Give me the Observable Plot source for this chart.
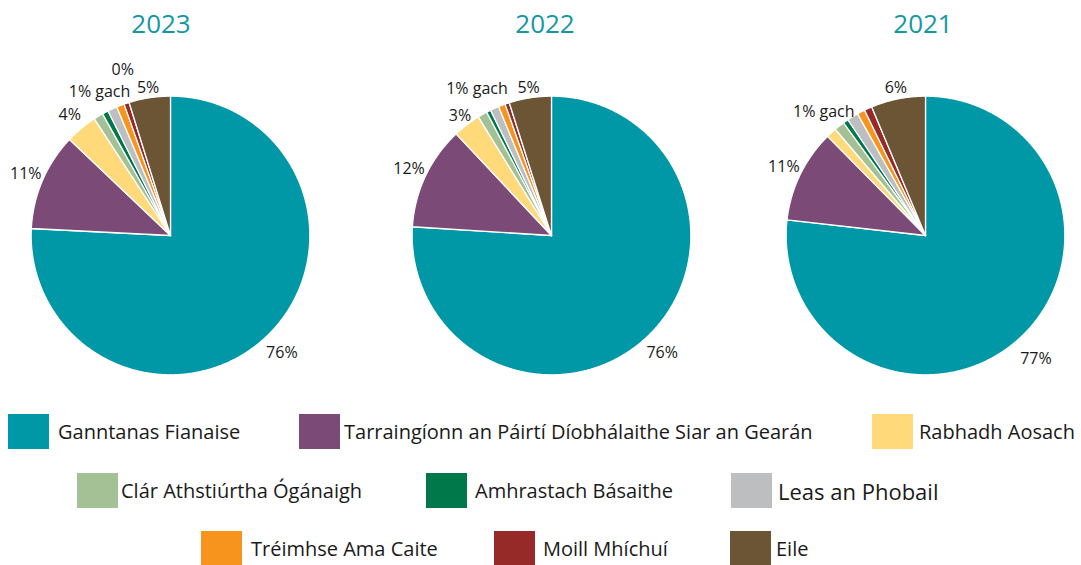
<!DOCTYPE html>
<html><head><meta charset="utf-8">
<script src="https://cdn.jsdelivr.net/npm/d3@7"></script>
<script src="https://cdn.jsdelivr.net/npm/@observablehq/plot@0.6"></script>
<style>
body{margin:0;background:#fff;font-family:"Open Sans",sans-serif;}
#root{position:relative;width:1081px;height:565px;overflow:hidden;background:#fff;}
.title{position:absolute;top:1px;width:200px;text-align:center;color:#1497a4;font-size:26px;line-height:44px;}
.pie{position:absolute;top:65px;}
.leg{position:absolute;height:35px;display:flex;align-items:center;font-size:20px;color:#1a1a1a;white-space:nowrap;}
.sw{width:41px;height:35px;flex:none;}
</style></head><body><div id="root"></div>
<script>
// ---- data ----
const categories = [
  "Ganntanas Fianaise",
  "Tarraingíonn an Páirtí Díobhálaithe Siar an Gearán",
  "Rabhadh Aosach",
  "Clár Athstiúrtha Ógánaigh",
  "Amhrastach Básaithe",
  "Leas an Phobail",
  "Tréimhse Ama Caite",
  "Moill Mhíchuí",
  "Eile"
];
const colors = ["#0098a6","#7b4a76","#ffd97a","#a4c195","#00784a","#bdbec0","#f7941d","#962a28","#6b5535"];
const years = ["2023","2022","2021"];
const values2023 = [75.8, 11.3, 3.7, 1.1, 0.7, 1.1, 0.9, 0.6, 4.8];
const values2022 = [76.0, 12.0, 3.2, 1.1, 0.5, 1.0, 0.8, 0.5, 4.9];
const values2021 = [76.8, 10.8, 1.2, 1.2, 0.6, 1.3, 0.9, 0.9, 6.3];
// labels: text and the slice range (first..last index) they describe
const labels2023 = [["76%",0,0],["11%",1,1],["4%",2,2],["1% gach",3,6],["0%",7,7],["5%",8,8]];
const labels2022 = [["76%",0,0],["12%",1,1],["3%",2,2],["1% gach",3,7],["5%",8,8]];
const labels2021 = [["77%",0,0],["11%",1,1],["1% gach",2,7],["6%",8,8]];

// ---- layout (not data) ----
const pieLeft = {"2023": 0, "2022": 381, "2021": 755};
const titleCenter = {"2023": 161, "2022": 545, "2021": 923};
const labelRadius = {"76%":1.16,"77%":1.19,"0%":1.24,"1% gach":1.15,"5%":1.07,"6%":1.08,"2022|3%":1.08,"2022|1% gach":1.18};
const labelShift = {"2021|1% gach": -0.1, "2022|1% gach": -0.04, "2023|0%": 0.04};
const legendPos = [[8,414,9],[299,414,4],[872,414,6],[77,473,3],[426,473,8],[731,473,6],[201,531,9],[494,531,8],[730,531,5]];

const seriesByYear = {"2023": values2023, "2022": values2022, "2021": values2021};
const labelsByYear = {"2023": labels2023, "2022": labels2022, "2021": labels2021};

const root = document.getElementById("root");

for (const year of years) {
  const vals = seriesByYear[year];
  const total = d3.sum(vals);
  const cum = [0];
  vals.forEach(v => cum.push(cum[cum.length-1] + v));
  const ang = c => c / total * 2 * Math.PI;
  const pts = [];
  vals.forEach((v, i) => {
    const a0 = ang(cum[i]), a1 = ang(cum[i+1]);
    const key = year + "-" + i;
    pts.push({key, cat: categories[i], x: 0, y: 0});
    const n = Math.max(2, Math.ceil((a1 - a0) / (Math.PI / 360)));
    for (let k = 0; k <= n; k++) {
      const a = a0 + (a1 - a0) * k / n;
      pts.push({key, cat: categories[i], x: Math.sin(a), y: Math.cos(a)});
    }
    pts.push({key, cat: categories[i], x: 0, y: 0});
  });
  const labs = labelsByYear[year].map(([text, from, to]) => {
    const a = (ang(cum[from]) + ang(cum[to+1])) / 2 + (labelShift[year + "|" + text] ?? 0);
    const r = labelRadius[year + "|" + text] ?? labelRadius[text] ?? 1.13;
    return {text, x: r * Math.sin(a), y: r * Math.cos(a)};
  });
  const chart = Plot.plot({
    width: 340, height: 340, margin: 0,
    style: {background: "transparent", overflow: "visible"},
    x: {domain: [-1.22, 1.22], axis: null},
    y: {domain: [-1.22, 1.22], axis: null},
    color: {domain: categories, range: colors},
    marks: [
      Plot.line(pts, {x: "x", y: "y", z: "key", fill: "cat", stroke: "white", strokeWidth: 1.3, strokeLinejoin: "round", curve: "linear"}),
      Plot.text(labs, {x: "x", y: "y", text: "text", fontSize: 16, fill: "#1a1a1a", fontFamily: "Open Sans", textAnchor: "middle"})
    ]
  });
  chart.classList.add("pie");
  chart.style.left = pieLeft[year] + "px";
  root.appendChild(chart);
  const t = document.createElement("div");
  t.className = "title";
  t.textContent = year;
  t.style.left = (titleCenter[year] - 100) + "px";
  root.appendChild(t);
}

categories.forEach((c, i) => {
  const [left, top, gap] = legendPos[i];
  const d = document.createElement("div");
  d.className = "leg";
  d.style.left = left + "px";
  d.style.top = top + "px";
  const sw = document.createElement("div");
  sw.className = "sw";
  sw.style.background = colors[i];
  sw.style.marginRight = gap + "px";
  const s = document.createElement("span");
  s.textContent = c;
  if (c === "Leas an Phobail") s.style.fontSize = "22px";
  d.appendChild(sw); d.appendChild(s);
  root.appendChild(d);
});
</script></body></html>
